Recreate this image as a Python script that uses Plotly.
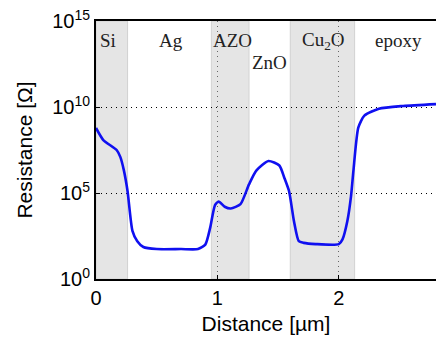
import plotly.graph_objects as go

# Data
distance_um = [0.0, 0.06, 0.17, 0.20, 0.23, 0.26, 0.30, 0.34, 0.39, 0.50, 0.70, 0.84, 0.90,
               0.94, 0.98, 1.01, 1.06, 1.11, 1.19, 1.26, 1.32, 1.42, 1.51, 1.55, 1.59,
               1.63, 1.67, 1.71, 1.81, 2.00, 2.03, 2.07, 2.10, 2.12, 2.16, 2.21, 2.33,
               2.53, 2.80]
log10_resistance = [8.78, 8.08, 7.5, 7.1, 6.3, 5.1, 2.8, 2.2, 1.86, 1.74, 1.74, 1.74, 2.0,
                    2.97, 4.3, 4.5, 4.2, 4.1, 4.35, 5.5, 6.3, 6.86, 6.6, 5.9, 5.1,
                    3.37, 2.2, 2.1, 2.03, 2.03, 2.3, 3.37, 4.8, 6.3, 8.8, 9.5, 9.9,
                    10.06, 10.17]
resistance_ohm = [10 ** v for v in log10_resistance]

# Shaded layers (start, end) in µm
shaded_layers = [(0.0, 0.26), (0.95, 1.26), (1.60, 2.13)]

# Layer labels: text, x (µm), log10 y
layer_labels = ["Si", "Ag", "AZO", "ZnO", "Cu<sub>2</sub>O", "epoxy"]
label_x = [0.10, 0.62, 1.12, 1.43, 1.87, 2.49]
label_logy = [13.85, 13.85, 13.85, 12.6, 13.85, 13.85]

x_ticks = [0, 1, 2]
y_ticks = [1, 1e5, 1e10, 1e15]
y_tick_text = ["10<sup>0</sup>", "10<sup>5</sup>", "10<sup>10</sup>", "10<sup>15</sup>"]

fig = go.Figure()

for a, b in shaded_layers:
    fig.add_shape(type="rect", x0=a, x1=b, y0=0, y1=1, xref="x", yref="paper",
                  fillcolor="#e5e5e5", line=dict(color="#d2d2d2", width=1), layer="below")

fig.add_trace(go.Scatter(x=distance_um, y=resistance_ohm, mode="lines",
                         line=dict(color="#1010f0", width=2.6, shape="spline", smoothing=0.6),
                         showlegend=False, hoverinfo="skip"))

for t, x, ly in zip(layer_labels, label_x, label_logy):
    fig.add_annotation(x=x, y=ly, xref="x", yref="y", text=t, showarrow=False,
                       font=dict(family="Liberation Serif", size=19, color="#222"))

fig.update_layout(
    width=436, height=342,
    margin=dict(l=96, r=0, t=21, b=63),
    plot_bgcolor="white", paper_bgcolor="white",
    font=dict(family="Liberation Sans", size=20, color="black"),
)
fig.update_xaxes(range=[0, 2.8], tickvals=x_ticks, ticktext=[str(v) for v in x_ticks],
                 showline=True, linecolor="black", linewidth=2, mirror=True,
                 ticks="inside", ticklen=4, tickcolor="black",
                 showgrid=True, gridcolor="#666", griddash="1px,4px", gridwidth=1.3,
                 zeroline=False,
                 title=dict(text="Distance [µm]", font=dict(size=21), standoff=8))
fig.update_yaxes(type="log", range=[0, 15], tickvals=y_ticks, ticktext=y_tick_text,
                 showline=True, linecolor="black", linewidth=2,
                 ticks="inside", ticklen=4, tickcolor="black",
                 showgrid=True, gridcolor="black", griddash="1px,4px", gridwidth=1.3,
                 zeroline=False,
                 title=dict(text="Resistance [Ω]", font=dict(size=21), standoff=14))

fig.write_html("out.html")
